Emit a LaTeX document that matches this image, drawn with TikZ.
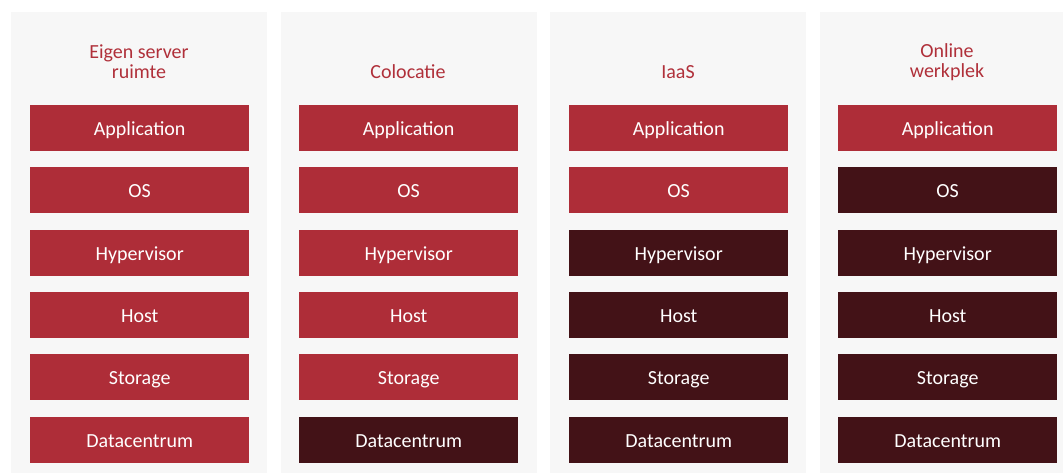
\documentclass[tikz,border=0pt]{standalone}
\usepackage{fontspec}
\setmainfont{Carlito}
\definecolor{panelgray}{HTML}{F7F7F7}
\definecolor{lightred}{HTML}{AE2D38}
\definecolor{darkred}{HTML}{431217}
\definecolor{titlered}{HTML}{B0303A}
\tikzset{
  x=1pt,y=1pt,
  panel/.style={fill=panelgray,draw=none},
  layerbox/.style={minimum width=219pt,minimum height=46pt,inner sep=0pt,draw=none,text=white,font=\fontsize{20}{22}\selectfont,text height=16.5pt,text depth=2pt,anchor=north west},
  lightbox/.style={layerbox,fill=lightred},
  darkbox/.style={layerbox,fill=darkred},
  titletext/.style={text=titlered,align=center,font=\fontsize{20}{20}\selectfont}
}
\begin{document}
\begin{tikzpicture}
\useasboundingbox (0,0) rectangle (1063,473);
\fill[white] (0,0) rectangle (1063,473);
% panels
\foreach \px [count=\i] in {11,281,550,820}{
  \fill[panel] (\px,0) rectangle ({min(\px+256,1063)},461);
}
% titles
\node[titletext] (t1) at (139,411) {Eigen server\\ruimte};
\node[titletext] (t2) at (408,401) {Colocatie};
\node[titletext] (t3) at (678,401) {IaaS};
\node[titletext] (t4) at (947,411) {Online\\werkplek};
% column 1
\node[lightbox] (a1) at (30,368) {Application};
\node[lightbox] (o1) at (30,306) {OS};
\node[lightbox] (h1) at (30,243) {Hypervisor};
\node[lightbox] (s1) at (30,181) {Host};
\node[lightbox] (g1) at (30,119) {Storage};
\node[lightbox] (d1) at (30,56) {Datacentrum};
% column 2
\node[lightbox] (a2) at (299,368) {Application};
\node[lightbox] (o2) at (299,306) {OS};
\node[lightbox] (h2) at (299,243) {Hypervisor};
\node[lightbox] (s2) at (299,181) {Host};
\node[lightbox] (g2) at (299,119) {Storage};
\node[darkbox] (d2) at (299,56) {Datacentrum};
% column 3
\node[lightbox] (a3) at (569,368) {Application};
\node[lightbox] (o3) at (569,306) {OS};
\node[darkbox] (h3) at (569,243) {Hypervisor};
\node[darkbox] (s3) at (569,181) {Host};
\node[darkbox] (g3) at (569,119) {Storage};
\node[darkbox] (d3) at (569,56) {Datacentrum};
% column 4
\node[lightbox] (a4) at (838,368) {Application};
\node[darkbox] (o4) at (838,306) {OS};
\node[darkbox] (h4) at (838,243) {Hypervisor};
\node[darkbox] (s4) at (838,181) {Host};
\node[darkbox] (g4) at (838,119) {Storage};
\node[darkbox] (d4) at (838,56) {Datacentrum};
\end{tikzpicture}
\end{document}
